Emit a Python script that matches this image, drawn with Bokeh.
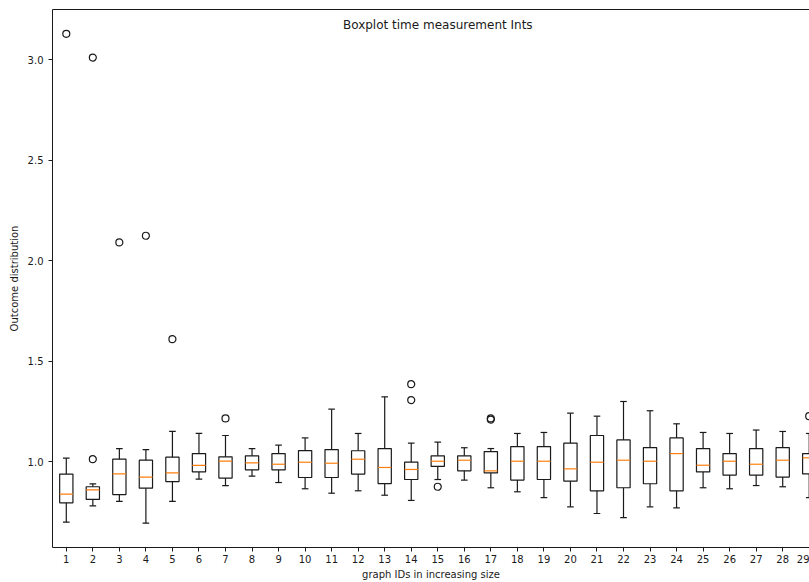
from bokeh.plotting import figure
from bokeh.models import ColumnDataSource, FixedTicker, Label, LinearAxis, Range1d
from bokeh.embed import file_html
from bokeh.resources import INLINE

# Per-graph summary of the measured outcome distribution
graph_ids = list(range(1, 30))
whisker_low = [0.700, 0.781, 0.803, 0.695, 0.803, 0.914, 0.882, 0.929, 0.897, 0.866,
               0.844, 0.856, 0.834, 0.808, 0.912, 0.909, 0.871, 0.851, 0.822, 0.776,
               0.743, 0.723, 0.776, 0.771, 0.871, 0.866, 0.882, 0.876, 0.822]
q1 = [0.796, 0.813, 0.837, 0.869, 0.902, 0.950, 0.919, 0.960, 0.960, 0.922,
      0.922, 0.939, 0.892, 0.912, 0.977, 0.955, 0.945, 0.909, 0.912, 0.904,
      0.856, 0.871, 0.891, 0.856, 0.950, 0.934, 0.934, 0.924, 0.940]
median = [0.839, 0.861, 0.940, 0.924, 0.945, 0.982, 1.003, 0.995, 0.988, 0.998,
          0.993, 1.013, 0.972, 0.962, 1.003, 1.008, 0.955, 1.003, 1.003, 0.965,
          0.998, 1.008, 1.003, 1.041, 0.983, 1.003, 0.988, 1.008, 1.020]
q3 = [0.939, 0.876, 1.013, 1.008, 1.023, 1.041, 1.025, 1.030, 1.041, 1.056,
      1.061, 1.055, 1.066, 0.998, 1.030, 1.030, 1.051, 1.076, 1.076, 1.093,
      1.131, 1.109, 1.071, 1.119, 1.066, 1.041, 1.066, 1.071, 1.041]
whisker_high = [1.018, 0.890, 1.066, 1.061, 1.151, 1.141, 1.131, 1.066, 1.083, 1.119,
                1.262, 1.141, 1.323, 1.093, 1.098, 1.070, 1.066, 1.141, 1.146, 1.242,
                1.227, 1.300, 1.254, 1.189, 1.146, 1.141, 1.158, 1.151, 1.141]

# Fliers beyond the whiskers
outlier_ids = [1, 2, 2, 3, 4, 5, 7, 14, 14, 15, 17, 17, 29]
outlier_values = [3.128, 3.010, 1.013, 2.091, 2.124, 1.610, 1.216, 1.386, 1.307,
                  0.876, 1.216, 1.210, 1.227]

y_ticks = [1.0, 1.5, 2.0, 2.5, 3.0]

box_half = 0.25
cap_half = 0.125

src = ColumnDataSource(dict(
    x=graph_ids,
    left=[g - box_half for g in graph_ids],
    right=[g + box_half for g in graph_ids],
    cap_l=[g - cap_half for g in graph_ids],
    cap_r=[g + cap_half for g in graph_ids],
    lo=whisker_low, q1=q1, med=median, q3=q3, hi=whisker_high,
))

FONT = "DejaVu Sans"
INK = "#1a1a1a"
LW = 1.2

p = figure(width=809, height=582,
           x_range=Range1d(0.48, 29.01), y_range=Range1d(0.574, 3.249),
           output_backend="svg", toolbar_location=None,
           min_border_left=52, min_border_right=0,
           min_border_top=9, min_border_bottom=35)
p.outline_line_color = None
p.xgrid.visible = False
p.ygrid.visible = False
p.background_fill_color = "white"
p.border_fill_color = "white"

# whiskers and caps
p.segment(x0="x", y0="q3", x1="x", y1="hi", source=src, line_color=INK, line_width=LW)
p.segment(x0="x", y0="q1", x1="x", y1="lo", source=src, line_color=INK, line_width=LW)
p.segment(x0="cap_l", y0="hi", x1="cap_r", y1="hi", source=src, line_color=INK, line_width=LW)
p.segment(x0="cap_l", y0="lo", x1="cap_r", y1="lo", source=src, line_color=INK, line_width=LW)
# boxes
p.quad(left="left", right="right", bottom="q1", top="q3", source=src,
       fill_color=None, line_color=INK, line_width=LW)
# medians
p.segment(x0="left", y0="med", x1="right", y1="med", source=src,
          line_color="#ff7f0e", line_width=LW)
# fliers
p.scatter(outlier_ids, outlier_values, marker="circle", size=7,
          fill_color=None, line_color=INK, line_width=LW)

# axes
p.xaxis.ticker = FixedTicker(ticks=graph_ids)
p.yaxis.ticker = FixedTicker(ticks=y_ticks)
p.yaxis.major_label_overrides = {t: f"{t:.1f}" for t in y_ticks}
for ax in (p.xaxis[0], p.yaxis[0]):
    ax.minor_tick_line_color = None
    ax.major_tick_in = 0
    ax.major_tick_out = 4
    ax.axis_line_color = INK
    ax.major_tick_line_color = INK
    ax.major_label_text_font = FONT
    ax.major_label_text_font_size = "10px"
    ax.major_label_text_color = INK
    ax.axis_label_text_font = FONT
    ax.axis_label_text_font_size = "10px"
    ax.axis_label_text_font_style = "normal"
    ax.axis_label_text_color = INK
p.xaxis.major_label_standoff = 3
p.xaxis.axis_label_standoff = 3
p.yaxis.major_label_standoff = 5
p.yaxis.axis_label_standoff = 5
p.xaxis.axis_label = "graph IDs in increasing size"
p.yaxis.axis_label = "Outcome distribution"

# top spine
top = LinearAxis(ticker=FixedTicker(ticks=[]), major_tick_line_color=None,
                 minor_tick_line_color=None, major_label_text_font_size="0px",
                 axis_line_color=INK)
p.add_layout(top, "above")

p.add_layout(Label(x=15, y=3.17, text="Boxplot time measurement Ints",
                   text_align="center", text_baseline="middle",
                   text_font=FONT, text_font_size="12px", text_color=INK))

open("out.html", "w").write(file_html(p, INLINE))
